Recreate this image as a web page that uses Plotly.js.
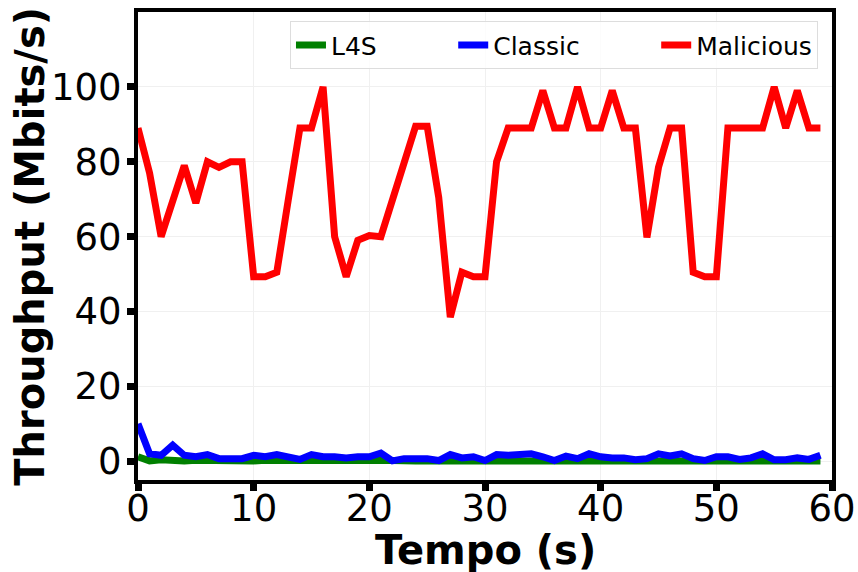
<!DOCTYPE html>
<html>
<head>
<meta charset="utf-8">
<script src="https://cdn.plot.ly/plotly-3.0.1.min.js"></script>
<style>html,body{margin:0;padding:0;background:#fff;}#chart{width:858px;height:572px;}</style>
</head>
<body>
<div id="chart"></div>
<script>
const time = Array.from({length: 60}, (_, i) => i);
const l4s = [1.2,0.1,0.4,0.2,0.1,0.3,0.2,0.1,0.1,0.2,0.1,0.3,0.2,0.1,0.1,0.3,0.2,0.2,0.1,0.1,0.2,0.3,0.1,0.1,0.1,0.1,0.1,0.3,0.2,0.1,0.1,0.3,0.1,0.2,0.1,0.1,0.1,0.2,0.1,0.3,0.2,0.1,0.1,0.1,0.1,0.3,0.2,0.4,0.1,0.1,0.2,0.1,0.1,0.1,0.4,0.1,0.1,0.2,0.1,0.1];
const classic = [10,2,1.6,4.3,1.6,1.2,1.8,0.7,0.7,0.7,1.6,1.2,1.8,1.2,0.5,1.8,1.2,1.2,0.9,1.2,1.2,2.2,0.1,0.7,0.7,0.7,0.2,1.8,0.9,1.2,0.2,1.8,1.6,2,2,1.2,0.2,1.4,0.7,2,1.2,0.9,0.9,0.4,0.7,2,1.4,2,0.7,0.2,1.2,1.2,0.5,0.9,2,0.4,0.4,0.9,0.5,1.6];
const malicious = [89,77,60,69.5,79,69,80,78.5,80,80,49.3,49.3,50.5,70,89,89,100,60,49.3,59,60.3,60,70,80,89.5,89.5,70.5,38.5,50.5,49.3,49.3,80,89,89,89,99,89,89,100,89,89,99,89,89,59.8,78.5,89,89,50.5,49.3,49.3,89,89,89,89,100,89,99,89,89];
const xTicks = [0,10,20,30,40,50,60];
const yTicks = [0,20,40,60,80,100];
const seriesNames = ['L4S', 'Classic', 'Malicious'];
const xTitle = 'Tempo (s)';
const yTitle = 'Throughput (Mbits/s)';

const pad = '\u00A0'.repeat(9);
const mk = (y, name, color) => ({x: time, y: y, name: name, type: 'scatter', mode: 'lines',
  line: {color: color, width: 7}});
const data = [mk(l4s, seriesNames[0] + pad, 'green'), mk(classic, seriesNames[1] + pad, 'blue'), mk(malicious, seriesNames[2], 'red')];

const axisCommon = {showline: true, mirror: true, linecolor: 'black', linewidth: 4,
  ticks: 'outside', ticklen: 7, tickwidth: 7, tickcolor: 'black',
  showgrid: true, gridcolor: '#f0f0f0', gridwidth: 1, zeroline: false,
  tickfont: {family: 'DejaVu Sans', size: 37, color: 'black'}};

const layout = {
  width: 858, height: 572,
  margin: {l: 138, r: 26, t: 12, b: 92},
  paper_bgcolor: 'white', plot_bgcolor: 'white',
  font: {family: 'DejaVu Sans', color: 'black'},
  showlegend: true,
  legend: {orientation: 'h', x: 0.9798, xanchor: 'right', y: 0.98, yanchor: 'top',
    bgcolor: 'rgba(255,255,255,0.8)', bordercolor: '#dddddd', borderwidth: 1,
    font: {family: 'DejaVu Sans', size: 25, color: 'black'}},
  xaxis: Object.assign({}, axisCommon, {range: [0, 60], tickvals: xTicks, ticklabelstandoff: -14}),
  yaxis: Object.assign({}, axisCommon, {range: [-5, 120], tickvals: yTicks, ticklabelstandoff: -2}),
  annotations: [
    {text: '<b>' + xTitle + '</b>', xref: 'paper', yref: 'paper', x: 0.5, y: -0.15,
     xanchor: 'center', yanchor: 'middle', showarrow: false,
     font: {family: 'DejaVu Sans', size: 40, color: 'black'}},
    {text: '<b>' + yTitle + '</b>', xref: 'paper', yref: 'paper', x: -0.156, y: 0.5,
     xanchor: 'center', yanchor: 'middle', textangle: -90, showarrow: false,
     font: {family: 'DejaVu Sans', size: 40, color: 'black'}}
  ]
};
Plotly.newPlot('chart', data, layout, {displayModeBar: false, staticPlot: true});
</script>
</body>
</html>
